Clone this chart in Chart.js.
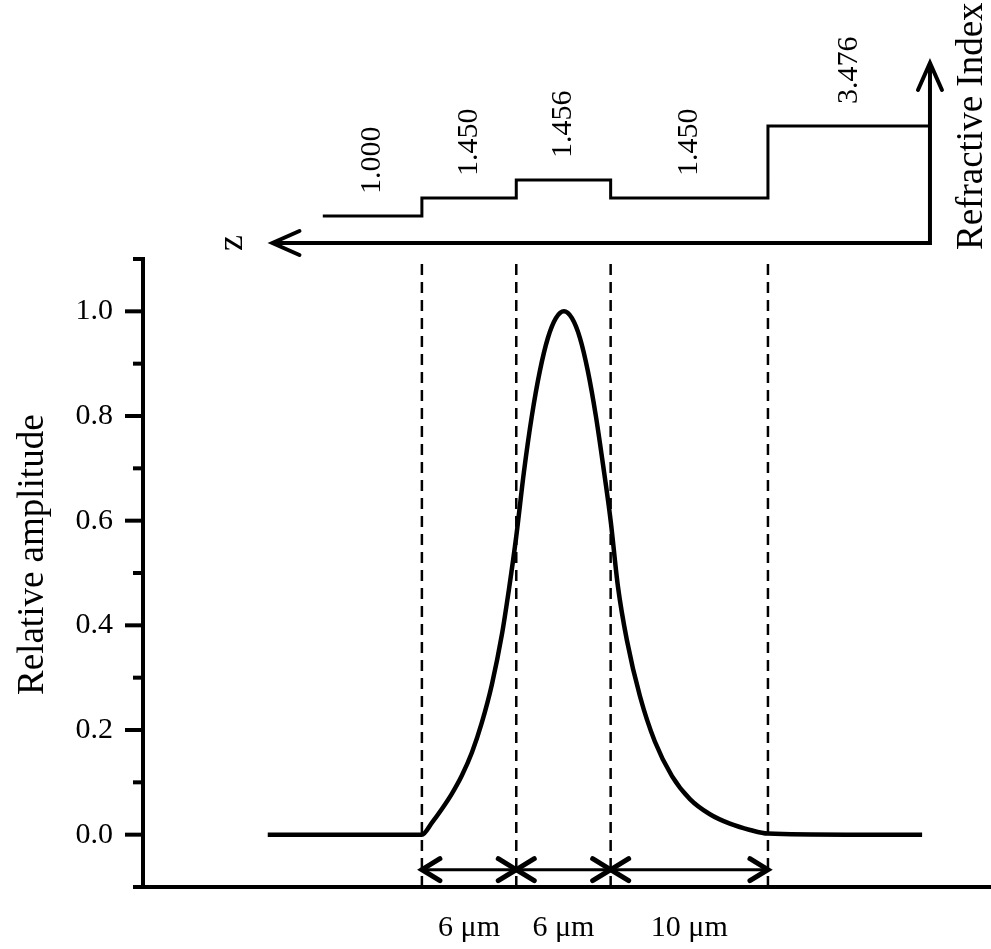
<!DOCTYPE html>
<html>
<head>
<meta charset="utf-8">
<title>Relative amplitude</title>
<script src="https://cdn.jsdelivr.net/npm/chart.js@4/dist/chart.umd.min.js"></script>
<style>
  html, body { margin: 0; padding: 0; background: #fff; }
  #wrap { position: relative; width: 991px; height: 949px; }
  #wrap canvas { position: absolute; left: 0; top: 0; }
</style>
</head>
<body>
<div id="wrap">
  <canvas id="fieldChart" width="991" height="949"></canvas>
  <canvas id="profileChart" width="991" height="259"></canvas>
</div>
<script>
const zPos = [31.8, 26.9, 22.0, 21.36, 20.73, 20.10, 19.46, 18.82, 18.19, 17.55, 16.91, 16.47, 16.0,
              15.51, 15.01, 14.50, 13.99, 13.48, 12.97, 12.46, 11.95, 11.45, 10.94, 10.49, 10.0,
              9.54, 8.97, 8.14, 7.19, 6.10, 4.96, 3.69, 2.42, 1.14, 0.0, -5.0, -9.8];
const amplitude = [0, 0, 0, 0.023, 0.049, 0.078, 0.113, 0.157, 0.214, 0.287, 0.383, 0.468, 0.57,
                   0.694, 0.800, 0.886, 0.949, 0.987, 1.0, 0.987, 0.949, 0.886, 0.800, 0.708, 0.60,
                   0.475, 0.372, 0.265, 0.178, 0.112, 0.068, 0.039, 0.021, 0.009, 0.002, 0, 0];

// y ticks (every 0.1, labelled every 0.2)
const yTickValues = [-0.1, 0.0, 0.1, 0.2, 0.3, 0.4, 0.5, 0.6, 0.7, 0.8, 0.9, 1.0, 1.1];

// layer stack, left to right in the picture
const layerEdges = [28.3, 22, 16, 10, 0, -10.3];
const layerIndex = ['1.000', '1.450', '1.456', '1.450', '3.476'];
const layerLevel = [0, 1, 2, 1, 5];   // schematic step height, not to scale
const gapLabels = ['6 \u03bcm', '6 \u03bcm', '10 \u03bcm'];

const zMin = -14.18, zMax = 39.73;
const zArrowTip = 31.5;
const serif = "'Liberation Serif', 'Times New Roman', serif";

Chart.defaults.font.family = serif;
Chart.defaults.color = '#000';

function isMajor(v) {
    const k = Math.round(v * 10);
    return k >= 0 && k <= 10 && k % 2 === 0;
}

// open arrow head, dx/dy = direction it points to
function chevron(ctx, x, y, dx, dy, len, half) {
    ctx.beginPath();
    ctx.moveTo(x - dx * len - dy * half, y - dy * len - dx * half);
    ctx.lineTo(x, y);
    ctx.lineTo(x - dx * len + dy * half, y - dy * len + dx * half);
    ctx.stroke();
}

function rotatedText(ctx, text, x, y, align) {
    ctx.save();
    ctx.translate(x, y);
    ctx.rotate(-Math.PI / 2);
    ctx.textAlign = align;
    ctx.textBaseline = 'middle';
    ctx.fillText(text, 0, 0);
    ctx.restore();
}

// tick marks + axis title on the amplitude axis
const yAxisExtras = {
    id: 'yAxisExtras',
    afterDraw(chart) {
        const ctx = chart.ctx, y = chart.scales.y, left = chart.chartArea.left;
        ctx.save();
        ctx.strokeStyle = '#000';
        ctx.fillStyle = '#000';
        ctx.lineWidth = 4;
        y.ticks.forEach(t => {
            const py = y.getPixelForValue(t.value);
            ctx.beginPath();
            ctx.moveTo(left - (isMajor(t.value) ? 18 : 10), py);
            ctx.lineTo(left, py);
            ctx.stroke();
        });
        ctx.font = '37px ' + serif;
        rotatedText(ctx, 'Relative amplitude', 33, y.getPixelForValue(0.535), 'center');
        ctx.restore();
    }
};

// double arrows with the layer thicknesses
const spacingArrows = {
    id: 'spacingArrows',
    afterDatasetsDraw(chart) {
        const {ctx, chartArea: a, scales: {x, y}} = chart;
        const py = y.getPixelForValue(-0.067);
        ctx.save();
        ctx.strokeStyle = '#000';
        ctx.fillStyle = '#000';
        ctx.lineCap = 'round';
        ctx.font = '30px ' + serif;
        ctx.textAlign = 'center';
        ctx.textBaseline = 'middle';
        gapLabels.forEach((label, i) => {
            const xa = x.getPixelForValue(layerEdges[i + 1]);
            const xb = x.getPixelForValue(layerEdges[i + 2]);
            ctx.lineWidth = 3;
            ctx.beginPath();
            ctx.moveTo(xa, py);
            ctx.lineTo(xb, py);
            ctx.stroke();
            ctx.lineWidth = 5;
            chevron(ctx, xa, py, -1, 0, 18, 11);
            chevron(ctx, xb, py, 1, 0, 18, 11);
            ctx.fillText(label, (xa + xb) / 2, a.bottom + 41);
        });
        ctx.restore();
    }
};

const curve = zPos.map((z, i) => ({x: z, y: amplitude[i]}));
const dashSets = layerEdges.slice(1, 5).map(z => ({
    data: [{x: z, y: -0.1}, {x: z, y: 1.1}],
    borderColor: '#000',
    borderWidth: 2.5,
    borderDash: [11, 7],
    pointRadius: 0,
    order: 1
}));

new Chart(document.getElementById('fieldChart'), {
    type: 'line',
    data: {
        datasets: [{
            data: curve,
            borderColor: '#000',
            borderWidth: 4.5,
            pointRadius: 0,
            cubicInterpolationMode: 'monotone',
            order: 0
        }, ...dashSets]
    },
    options: {
        responsive: false,
        animation: false,
        devicePixelRatio: 1,
        layout: { padding: { top: 259, bottom: 62, left: 0, right: 0 } },
        scales: {
            x: {
                type: 'linear', reverse: true, min: zMin, max: zMax,
                grid: { display: false, drawTicks: false },
                ticks: { display: false },
                border: { color: '#000', width: 4 },
                afterFit: s => { s.height = 0; }
            },
            y: {
                min: -0.1, max: 1.1,
                afterBuildTicks: s => { s.ticks = yTickValues.map(v => ({value: v})); },
                ticks: {
                    padding: 30, autoSkip: false,
                    font: { size: 30 }, color: '#000',
                    callback: v => isMajor(v) ? v.toFixed(1) : ''
                },
                grid: { display: false, drawTicks: false },
                border: { color: '#000', width: 4 },
                afterFit: s => { s.width = 143; }
            }
        },
        plugins: { legend: { display: false }, tooltip: { enabled: false } }
    },
    plugins: [yAxisExtras, spacingArrows]
});

// refractive index profile above the plot
const profileDecor = {
    id: 'profileDecor',
    afterDraw(chart) {
        const {ctx, chartArea: a, scales: {x, y}} = chart;
        const cornerX = x.getPixelForValue(layerEdges[layerEdges.length - 1]);
        const tipX = x.getPixelForValue(zArrowTip);
        ctx.save();
        ctx.strokeStyle = '#000';
        ctx.fillStyle = '#000';
        ctx.lineWidth = 4;
        ctx.lineJoin = 'miter';
        ctx.beginPath();
        ctx.moveTo(tipX, a.bottom);
        ctx.lineTo(cornerX, a.bottom);
        ctx.lineTo(cornerX, a.top);
        ctx.stroke();
        ctx.lineCap = 'round';
        chevron(ctx, tipX, a.bottom, -1, 0, 27, 12);
        chevron(ctx, cornerX, a.top, 0, -1, 27, 12);

        ctx.font = '30px ' + serif;
        layerIndex.forEach((label, i) => {
            const mid = (x.getPixelForValue(layerEdges[i]) + x.getPixelForValue(layerEdges[i + 1])) / 2;
            rotatedText(ctx, label, mid, y.getPixelForValue(layerLevel[i]) - 22, 'left');
        });
        ctx.font = '36px ' + serif;
        rotatedText(ctx, 'z', tipX - 40, a.bottom, 'center');
        ctx.font = '37px ' + serif;
        rotatedText(ctx, 'Refractive Index', cornerX + 42, a.bottom + 7, 'left');
        ctx.restore();
    }
};

new Chart(document.getElementById('profileChart'), {
    type: 'line',
    data: {
        datasets: [{
            data: layerEdges.map((z, i) => ({x: z, y: layerLevel[Math.min(i, layerLevel.length - 1)]})),
            stepped: 'before',
            borderColor: '#000',
            borderWidth: 3,
            pointRadius: 0
        }]
    },
    options: {
        responsive: false,
        animation: false,
        devicePixelRatio: 1,
        layout: { padding: { left: 143, right: 0, top: 63, bottom: 16 } },
        scales: {
            x: { type: 'linear', reverse: true, min: zMin, max: zMax, display: false },
            y: { min: -1.5, max: 8.5, display: false }
        },
        plugins: { legend: { display: false }, tooltip: { enabled: false } }
    },
    plugins: [profileDecor]
});
</script>
</body>
</html>
